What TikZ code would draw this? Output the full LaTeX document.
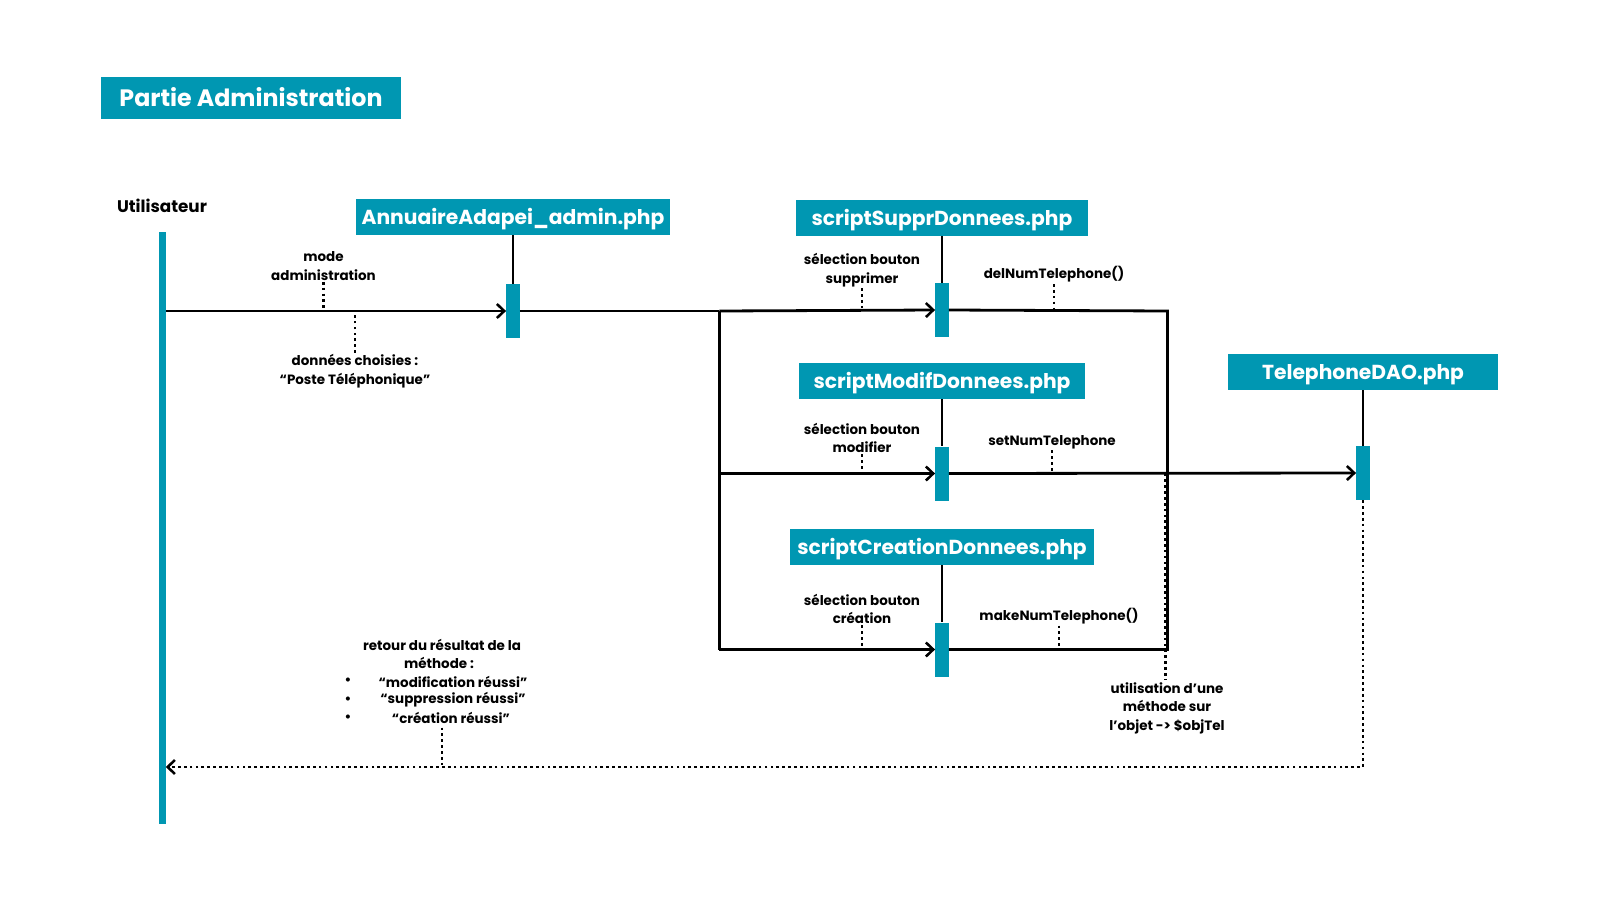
\documentclass[tikz,border=0pt]{standalone}
\usepackage{fontspec}
\setmainfont{Poppins}
\usetikzlibrary{arrows.meta}
\definecolor{tealA}{RGB}{0,151,178}
\begin{document}
\begin{tikzpicture}[x=0.75pt,y=-0.75pt,
  hdr/.style={fill=tealA, text=white, font=\bfseries\fontsize{15.2}{18}\selectfont, inner sep=0pt, minimum height=27pt, text height=13.4pt, text depth=2.3pt},
  act/.style={fill=tealA, inner sep=0pt, minimum width=10pt, minimum height=40.5pt},
  lbl/.style={font=\bfseries\fontsize{10.1}{13.8}\selectfont, align=center, inner sep=1pt},
  ln/.style={line width=2.1pt},
  arr/.style={ln, -{Straight Barb[length=5.5pt,width=10.5pt,line width=1.9pt]}},
  dotl/.style={line width=2.2pt, dash pattern=on 2pt off 2.4pt}]
\useasboundingbox[fill=white] (0,0) rectangle (1600,900);

% title
\node[hdr, minimum width=225pt, minimum height=31.5pt, font=\bfseries\fontsize{17.8}{20}\selectfont, text height=13.2pt, text depth=0pt] (title) at (251,97.5) {Partie Administration};

% actors
\node[font=\bfseries\fontsize{12.6}{14}\selectfont, inner sep=0pt] (utxt) at (162,206) {Utilisateur};
\node[fill=tealA, inner sep=0pt, minimum width=5.25pt, minimum height=444pt] (user) at (162,527.5) {};

\node[hdr, minimum width=235.5pt] (ann) at (513,217) {AnnuaireAdapei\_admin.php};
\node[hdr, minimum width=219pt] (sup) at (942,218) {scriptSupprDonnees.php};
\node[hdr, minimum width=214.5pt] (mod) at (942,381) {scriptModifDonnees.php};
\node[hdr, minimum width=228pt] (cre) at (942,547) {scriptCreationDonnees.php};
\node[hdr, minimum width=203pt] (dao) at (1363,372) {TelephoneDAO.php};

% activations
\node[act] (A1) at (513,311) {};
\node[act] (S1) at (942,310) {};
\node[act] (M1) at (942,473.5) {};
\node[act] (C1) at (942,649.5) {};
\node[act] (D1) at (1363,473) {};

% lifelines
\draw[ln] (ann.south) -- (A1.north);
\draw[ln] (sup.south) -- (S1.north);
\draw[ln] (mod.south) -- (M1.north);
\draw[ln] (cre.south) -- (C1.north);
\draw[ln] (dao.south) -- (D1.north);

% junctions
\coordinate (J1) at (719.4,311);
\coordinate (J2) at (719.4,473.5);
\coordinate (J3) at (719.4,649.5);
\coordinate (K1) at (1167.5,311);
\coordinate (K3) at (1167.5,649.5);
\coordinate (Kd1) at (1165.5,473.5);
\coordinate (Kd2) at (1165.5,679);
\coordinate (R1) at (1363,767);
\coordinate (Rt) at (442,727.6);

% messages
\draw[arr] (user.east |- A1) -- (A1.west);
\draw[ln] (A1.east) -- (J1);
\draw[ln] (J1) -- (J3);
\draw[arr] (J1) -- (S1.west);
\draw[arr] (J2) -- (M1.west);
\draw[arr] (J3) -- (C1.west);
\draw[ln] (S1.east) -- (K1) -- (K3) -- (C1.east);
\draw[arr] (M1.east) -- (D1.west);
\draw[dotl] (Kd1) -- (Kd2);
\draw[dotl, -{Straight Barb[length=5.5pt,width=10.5pt,line width=1.9pt]}] (D1.south) -- (R1) -- (user.east |- R1);

% labels
\node[lbl] (lmode) at (323.5,266) {mode\\administration};
\draw[dotl] (lmode.south) -- (lmode.south |- A1);
\node[lbl] (ldon) at (355,371) {données choisies :\\“Poste Téléphonique”};
\draw[dotl] (ldon.north) -- (ldon.north |- A1);

\node[lbl] (lsup) at (862,270) {sélection bouton\\supprimer};
\draw[dotl] (lsup.south) -- (lsup.south |- S1);
\node[lbl] (ldel) at (1054,274.5) {delNumTelephone()};
\draw[dotl] (ldel.south) -- (ldel.south |- S1);

\node[lbl] (lmod) at (862,438) {sélection bouton\\modifier};
\draw[dotl] (lmod.south) -- (lmod.south |- M1);
\node[lbl] (lset) at (1052,442) {setNumTelephone};
\draw[dotl] (lset.south) -- (lset.south |- M1);

\node[lbl] (lcre) at (862,609) {sélection bouton\\création};
\draw[dotl] (lcre.south) -- (lcre.south |- C1);
\node[lbl] (lmake) at (1059,616) {makeNumTelephone()};
\draw[dotl] (lmake.south) -- (lmake.south |- C1);

\node[lbl] (luti) at (1167,708) {utilisation d’une\\méthode sur\\l’objet -> \$objTel};

\node[lbl] (lret1) at (442,645) {retour du résultat de la};
\node[lbl] (lret2) at (439,663) {méthode :};
\node[lbl] (b1) at (348,681.6) {•};
\node[lbl] (b2) at (348,700) {•};
\node[lbl] (b3) at (348,718.4) {•};
\node[lbl] (lr1) at (453,681.6) {“modification réussi”};
\node[lbl] (lr2) at (453,700) {“suppression réussi”};
\node[lbl] (lr3) at (451,718.4) {“création réussi”};
\draw[dotl] (Rt) -- (Rt |- R1);
\end{tikzpicture}
\end{document}
